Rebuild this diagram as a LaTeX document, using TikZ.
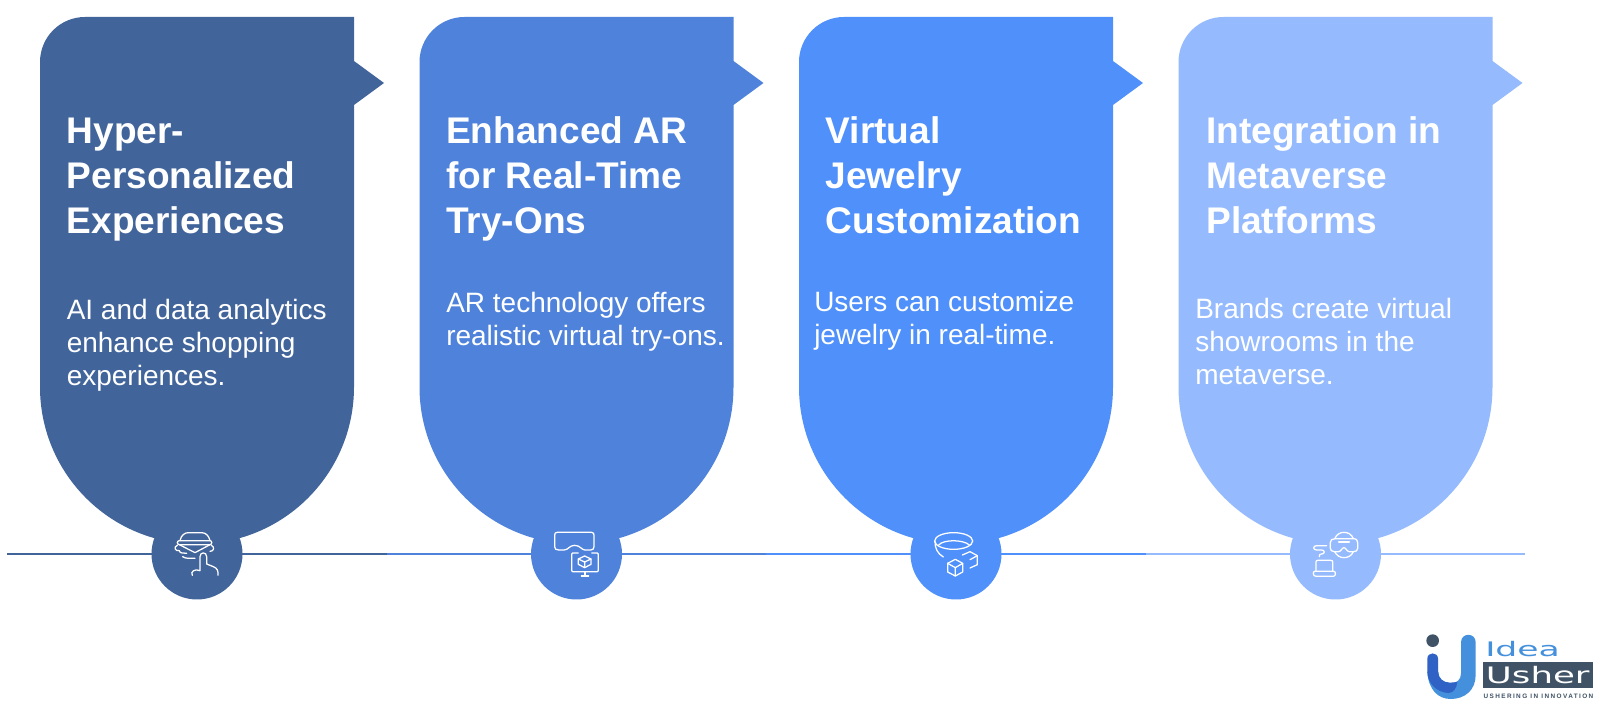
\documentclass[tikz,border=0pt]{standalone}
\usepackage{fontspec}
\usepackage{graphicx}
\setmainfont{Liberation Sans}
\newfontfamily\logofont{DejaVu Sans}
\newfontfamily\tagfont[LetterSpace=22]{Liberation Sans}
\definecolor{cA}{HTML}{41649B}
\definecolor{cB}{HTML}{4F83DB}
\definecolor{cC}{HTML}{4F90FB}
\definecolor{cD}{HTML}{95BBFE}
\definecolor{logoDark}{HTML}{3F5266}
\definecolor{logoBlue}{HTML}{4490DC}
\definecolor{logoDeep}{HTML}{2F62C4}
\tikzset{
  headtext/.style={anchor=base west,inner sep=0pt,text=white,align=left,font=\fontsize{27.8}{33.75}\selectfont\bfseries},
  bodytext/.style={anchor=base west,inner sep=0pt,text=white,align=left,font=\fontsize{21}{25}\selectfont},
  glyph/.style={draw=white,line width=0.95pt,line cap=round,line join=round,fill=none},
  zoomgrid/.style={x=0.25pt,y=-0.25pt},
}
\newcommand{\bubble}[2]{%
  \fill[#2,shift={(#1,0)}] (40,62) arc[start angle=180,end angle=270,radius=45] -- (354,17) -- (354,61) -- (384,83) -- (354,105) -- (354,387)
    arc[start angle=0,end angle=180,radius=157] -- cycle;
  \fill[#2,shift={(#1,0)}] (197,554) circle[radius=45.5];
}
\begin{document}
\begin{tikzpicture}[x=0.75pt,y=-0.75pt]
\useasboundingbox (0,0) rectangle (1600,705);
\fill[white] (0,0) rectangle (1600,705);
% base line
\coordinate (l0) at (7,554);
\coordinate (l1) at (387,554);
\coordinate (l2) at (766,554);
\coordinate (l3) at (1146,554);
\coordinate (l4) at (1525,554);
\draw[cA,line width=1.4pt] (l0) -- (l1);
\draw[cB,line width=1.4pt] (l1) -- (l2);
\draw[cC,line width=1.4pt] (l2) -- (l3);
\draw[cD,line width=1.4pt] (l3) -- (l4);
% bubbles
\bubble{0}{cA}
\bubble{379.5}{cB}
\bubble{759}{cC}
\bubble{1138.5}{cD}
% text (anchored on the last baseline)
\node[headtext] (h1) at (66.5,233.5) {Hyper-\\Personalized\\Experiences};
\node[headtext] (h2) at (446,233.5) {Enhanced AR\\for Real-Time\\Try-Ons};
\node[headtext] (h3) at (825.5,233.5) {Virtual\\Jewelry\\Customization};
\node[headtext] (h4) at (1206,233.5) {Integration in\\Metaverse\\Platforms};
\node[bodytext] (b1) at (66.5,386) {AI and data analytics\\enhance shopping\\experiences.};
\node[bodytext] (b2) at (446,346) {AR technology offers\\realistic virtual try-ons.};
\node[bodytext] (b3) at (814,345) {Users can customize\\jewelry in real-time.};
\node[bodytext] (b4) at (1195,385) {Brands create virtual\\showrooms in the\\metaverse.};
% icon 1
\begin{scope}[shift={(120,500)},zoomgrid]
\draw[glyph] (180,122) .. controls (183,105) and (195,98) .. (205,98) -- (245,98) .. controls (258,98) and (267,108) .. (270,122);
\draw[glyph] (178,122) -- (270,122) .. controls (277,122) and (277,134) .. (270,134) -- (178,134) .. controls (170,134) and (170,122) .. (178,122);
\draw[glyph] (178,134) -- (225,158) -- (270,134);
\draw[glyph] (172,136) .. controls (160,140) and (165,155) .. (178,152);
\draw[glyph] (274,136) .. controls (285,140) and (282,155) .. (270,154);
\draw[glyph] (178,152) .. controls (180,162) and (190,158) .. (200,160);
\draw[glyph] (188,170) .. controls (195,176) and (210,175) .. (225,175);
\draw[glyph] (217,226) .. controls (210,215) and (225,205) .. (240,212) -- (240,170) .. controls (240,155) and (260,155) .. (260,170) -- (260,192) -- (280,200) .. controls (292,205) and (295,212) .. (294,226);
\end{scope}
% icon 2
\begin{scope}[shift={(120,500)},zoomgrid]
\draw[glyph] (1312,97) -- (1414,97) .. controls (1420,97) and (1422,100) .. (1422,106) -- (1422,140) .. controls (1422,147) and (1418,150) .. (1412,150) -- (1395,150) .. controls (1385,150) and (1380,136) .. (1364,136) .. controls (1348,136) and (1345,150) .. (1332,150) -- (1316,150) .. controls (1308,150) and (1304,147) .. (1304,140) -- (1304,106) .. controls (1304,100) and (1306,97) .. (1312,97) -- cycle;
\draw[glyph] (1375,159) -- (1358,159) -- (1355,162) -- (1355,212) -- (1358,215) -- (1432,215) -- (1435,212) -- (1435,162) -- (1432,159) -- (1415,159);
\draw[glyph] (1395,215) -- (1395,228) (1384,228) -- (1406,228);
\draw[glyph] (1394,168) -- (1413,177) -- (1413,193) -- (1394,203) -- (1375,193) -- (1375,177) -- cycle;
\draw[glyph] (1375,177) -- (1394,186) -- (1413,177) (1394,186) -- (1394,203);
\end{scope}
% icon 3
\begin{scope}[shift={(880,500)},zoomgrid]
\draw[glyph] (221,123) ellipse[x radius=57,y radius=25];
\draw[glyph] (176,135) .. controls (190,118) and (250,118) .. (268,135);
\draw[glyph] (165,125) .. controls (165,145) and (172,160) .. (190,171);
\draw[glyph] (226,178) -- (248,190) -- (248,216) -- (226,228) -- (203,216) -- (203,190) -- cycle;
\draw[glyph] (203,190) -- (226,203) -- (248,190) (226,203) -- (226,228);
\draw[glyph] (247,165) -- (270,155) -- (292,167) -- (292,194) -- (270,204);
\draw[glyph] (270,179) -- (292,167);
\end{scope}
% icon 4
\begin{scope}[shift={(880,500)},zoomgrid]
\draw[glyph] (1365,116) -- (1420,116) .. controls (1430,116) and (1433,122) .. (1433,128) -- (1433,145) .. controls (1433,152) and (1428,155) .. (1420,155) -- (1408,155) .. controls (1400,155) and (1398,143) .. (1392,143) .. controls (1385,143) and (1384,155) .. (1375,155) -- (1363,155) .. controls (1355,155) and (1351,150) .. (1351,145) -- (1351,128) .. controls (1351,120) and (1356,116) .. (1365,116) -- cycle;
\draw[glyph] (1364,116) .. controls (1370,103) and (1380,97) .. (1392,97) .. controls (1404,97) and (1415,103) .. (1420,116);
\draw[glyph] (1364,155) .. controls (1370,167) and (1380,173) .. (1392,173) .. controls (1404,173) and (1415,167) .. (1420,155);
\draw[glyph] (1376,126) -- (1408,126);
\draw[glyph] (1340,137) -- (1310,137) .. controls (1298,137) and (1298,150) .. (1310,150) -- (1325,150) .. controls (1335,150) and (1335,162) .. (1325,162) .. controls (1318,162) and (1318,165) .. (1318,170);
\draw[glyph] (1308,214) -- (1308,186) .. controls (1308,182) and (1310,181) .. (1314,181) -- (1352,181) .. controls (1356,181) and (1358,182) .. (1358,186) -- (1358,214);
\draw[glyph] (1304,214) -- (1362,214) .. controls (1368,214) and (1368,229) .. (1360,229) -- (1308,229) .. controls (1298,229) and (1298,214) .. (1304,214) -- cycle;
\end{scope}
% logo
\begin{scope}[shift={(1400,620)},zoomgrid]
\fill[logoDark] (98,62) circle[radius=19];
\fill[logoBlue] (183,67) .. controls (183,37) and (227,37) .. (227,67) -- (227,165) .. controls (227,210) and (195,237) .. (152,237) .. controls (115,237) and (85,210) .. (82,155) -- (115,155) .. controls (115,175) and (130,190) .. (150,190) .. controls (170,190) and (183,180) .. (183,160) -- cycle;
\fill[logoDeep] (82,116) .. controls (82,95) and (114,95) .. (114,116) -- (114,155) .. controls (114,175) and (130,188) .. (150,188) -- (172,186) .. controls (170,205) and (160,219) .. (145,219) .. controls (110,217) and (82,190) .. (82,155) -- cycle;
\fill[logoDark] (250,126) rectangle (580,205);
\node[inner sep=0pt,anchor=base west,text=logoBlue,font=\logofont\fontsize{15}{15}\selectfont] (logoA) at (255,109) {\scalebox{1.73}[1]{Idea}};
\node[inner sep=0pt,anchor=base west,text=white,font=\logofont\fontsize{17}{17}\selectfont] (logoB) at (257,190) {\scalebox{1.57}[1]{Usher}};
\node[inner sep=0pt,anchor=base west,text=logoDark,font=\tagfont\fontsize{4.8}{5}\selectfont\bfseries] (logoC) at (250,236) {USHERING IN INNOVATION};
\end{scope}
\end{tikzpicture}
\end{document}
